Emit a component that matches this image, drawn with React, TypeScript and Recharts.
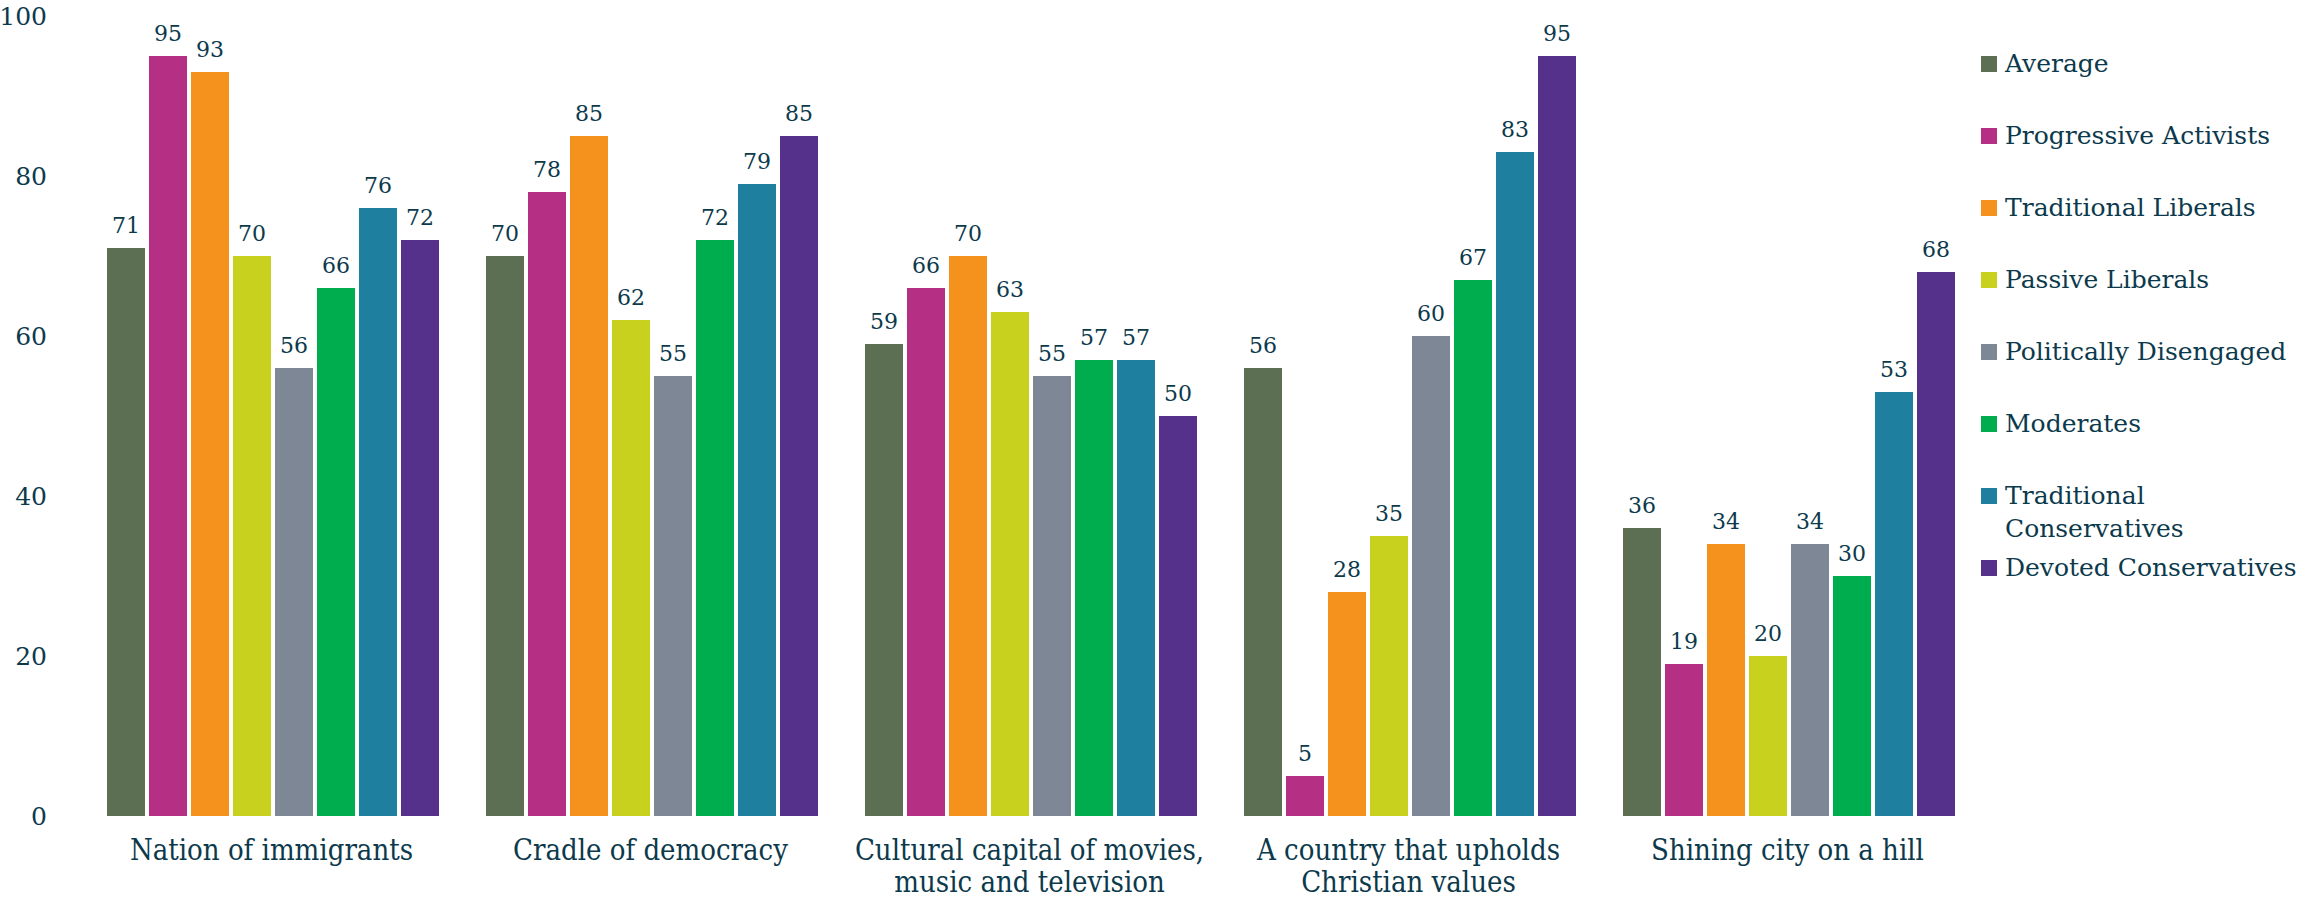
import React from 'react';
import { BarChart, Bar, XAxis, YAxis, Legend, LabelList } from 'recharts';

const categories = [
  'Nation of immigrants',
  'Cradle of democracy',
  'Cultural capital of movies,\nmusic and television',
  'A country that upholds\nChristian values',
  'Shining city on a hill',
];

const seriesNames = [
  'Average',
  'Progressive Activists',
  'Traditional Liberals',
  'Passive Liberals',
  'Politically Disengaged',
  'Moderates',
  'Traditional Conservatives',
  'Devoted Conservatives',
];

const average = [71, 70, 59, 56, 36];
const progressiveActivists = [95, 78, 66, 5, 19];
const traditionalLiberals = [93, 85, 70, 28, 34];
const passiveLiberals = [70, 62, 63, 35, 20];
const politicallyDisengaged = [56, 55, 55, 60, 34];
const moderates = [66, 72, 57, 67, 30];
const traditionalConservatives = [76, 79, 57, 83, 53];
const devotedConservatives = [72, 85, 50, 95, 68];

const yTicks = [0, 20, 40, 60, 80, 100];

const seriesValues = [
  average,
  progressiveActivists,
  traditionalLiberals,
  passiveLiberals,
  politicallyDisengaged,
  moderates,
  traditionalConservatives,
  devotedConservatives,
];

const colors = ['#5c6f52', '#b52f84', '#f5921e', '#c8d11e', '#7e8796', '#00ad4e', '#1e7f9e', '#56318c'];

const TEXT = '#0c3a4c';
const SERIF = "'DejaVu Serif', serif";

const data = categories.map((name, i) => {
  const row: Record<string, string | number> = { name };
  seriesNames.forEach((s, j) => {
    row[s] = seriesValues[j][i];
  });
  return row;
});

const CategoryTick = (props: any) => {
  const { x, y, payload } = props;
  const lines = String(payload.value).split('\n');
  return (
    <text
      x={x}
      y={y + 44}
      textAnchor="middle"
      fill={TEXT}
      style={{ fontFamily: "'DejaVu Serif Condensed', 'DejaVu Serif', serif", fontStretch: 'condensed', fontSize: 29 }}
    >
      {lines.map((line, i) => (
        <tspan key={i} x={x} dy={i === 0 ? 0 : 32}>
          {line}
        </tspan>
      ))}
    </text>
  );
};

// keep the legend in series order, not alphabetical
const LegendContent = (props: any) => {
  const items = [...(props.payload || [])].sort(
    (a: any, b: any) => seriesNames.indexOf(a.value) - seriesNames.indexOf(b.value)
  );
  return (
    <div style={{ fontFamily: SERIF, fontSize: 25, color: TEXT }}>
      {items.map((entry: any) => (
        <div key={entry.value} style={{ display: 'flex', alignItems: 'flex-start', height: 72 }}>
          <div style={{ width: 16, height: 16, marginTop: 9, marginRight: 8, background: entry.color, flexShrink: 0 }} />
          <div style={{ width: 298, lineHeight: '33px', whiteSpace: 'normal' }}>{entry.value}</div>
        </div>
      ))}
    </div>
  );
};

export default function App() {
  return (
    <div style={{ position: 'absolute', left: 0, top: 0, background: '#fff' }}>
      <BarChart
        width={2305}
        height={898}
        data={data}
        margin={{ top: 16, right: 328, bottom: 0, left: 0 }}
        barCategoryGap={25}
        barGap={4}
      >
        <XAxis
          dataKey="name"
          axisLine={false}
          tickLine={false}
          tickSize={0}
          tickMargin={0}
          height={82}
          interval={0}
          tick={<CategoryTick />}
        />
        <YAxis
          domain={[0, 100]}
          ticks={yTicks}
          axisLine={false}
          tickLine={false}
          tickSize={0}
          tickMargin={35}
          width={82}
          tick={{ fill: TEXT, fontSize: 25, fontFamily: SERIF }}
        />
        <Legend
          layout="horizontal"
          verticalAlign="middle"
          align="center"
          content={<LegendContent />}
          wrapperStyle={{ position: 'absolute', left: 1981, top: 47, width: 324 }}
        />
        {seriesNames.map((s, j) => (
          <Bar key={s} dataKey={s} fill={colors[j]} isAnimationActive={false}>
            <LabelList
              dataKey={s}
              position="top"
              offset={15}
              fill={TEXT}
              style={{ fontFamily: SERIF, fontSize: 22 }}
            />
          </Bar>
        ))}
      </BarChart>
    </div>
  );
}
